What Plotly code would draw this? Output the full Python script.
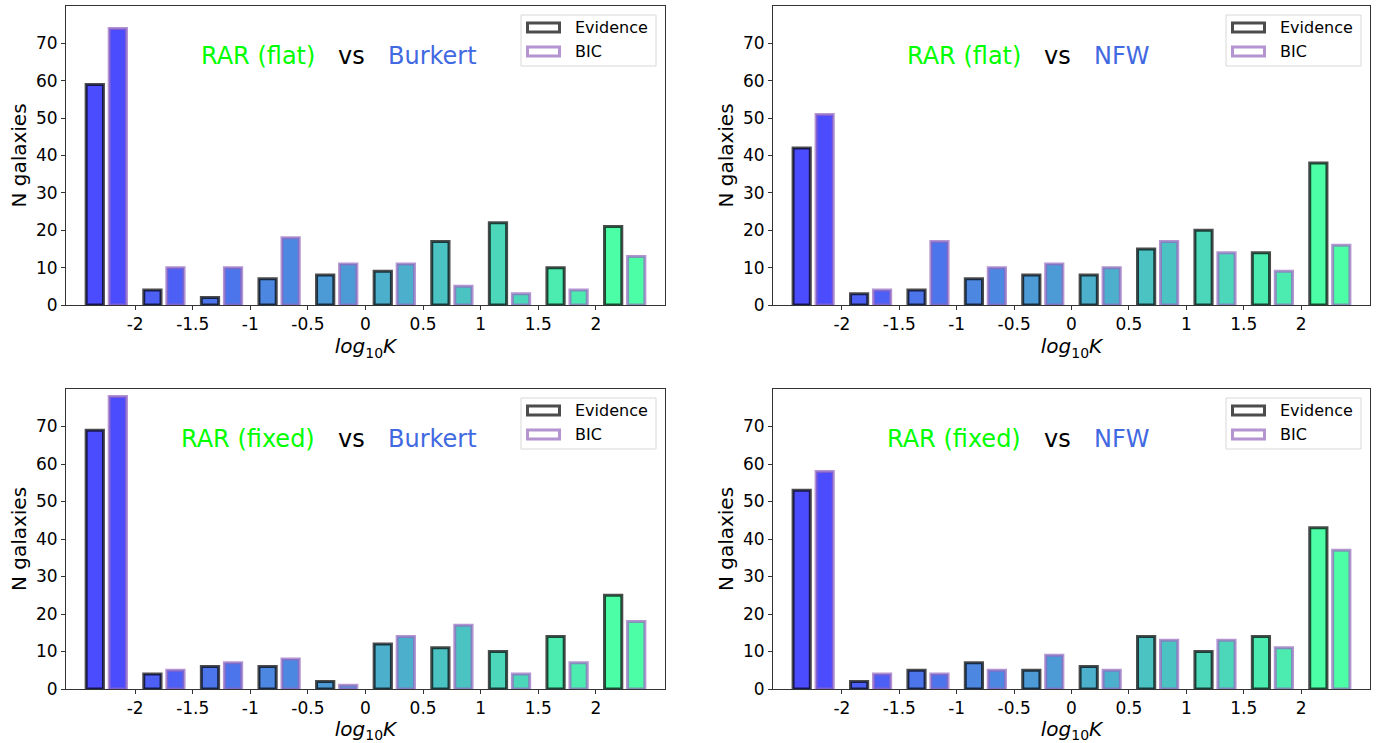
import plotly.graph_objects as go
from plotly.subplots import make_subplots

# ---- data ----
bin_centers = [-2.25, -1.75, -1.25, -0.75, -0.25, 0.25, 0.75, 1.25, 1.75, 2.25]
tick_vals = [-2, -1.5, -1, -0.5, 0, 0.5, 1, 1.5, 2]
tick_text = ["-2", "-1.5", "-1", "-0.5", "0", "0.5", "1", "1.5", "2"]
y_ticks = [0, 10, 20, 30, 40, 50, 60, 70]

flat_burkert_evidence = [59, 4, 2, 7, 8, 9, 17, 22, 10, 21]
flat_burkert_bic = [74, 10, 10, 18, 11, 11, 5, 3, 4, 13]
flat_nfw_evidence = [42, 3, 4, 7, 8, 8, 15, 20, 14, 38]
flat_nfw_bic = [51, 4, 17, 10, 11, 10, 17, 14, 9, 16]
fixed_burkert_evidence = [69, 4, 6, 6, 2, 12, 11, 10, 14, 25]
fixed_burkert_bic = [78, 5, 7, 8, 1, 14, 17, 4, 7, 18]
fixed_nfw_evidence = [53, 2, 5, 7, 5, 6, 14, 10, 14, 43]
fixed_nfw_bic = [58, 4, 4, 5, 9, 5, 13, 13, 11, 37]

panel_rar = ["RAR (flat)", "RAR (flat)", "RAR (fixed)", "RAR (fixed)"]
panel_halo = ["Burkert", "NFW", "Burkert", "NFW"]
panel_evidence = [flat_burkert_evidence, flat_nfw_evidence, fixed_burkert_evidence, fixed_nfw_evidence]
panel_bic = [flat_burkert_bic, flat_nfw_bic, fixed_burkert_bic, fixed_nfw_bic]
legend_names = ["Evidence", "BIC"]

# ---- style ----
ALPHA = 0.7
FONT = "DejaVu Sans"


def winter(t):
    return (0, int(round(255 * t)), int(round(255 * (1 - 0.5 * t))))


n = len(bin_centers)
fill_colors = ["rgba(%d,%d,%d,%.2f)" % (*winter(i / (n - 1)), ALPHA) for i in range(n)]
ev_edge = "rgba(0,0,0,%.2f)" % ALPHA
bic_edge = "rgba(148,103,189,%.2f)" % ALPHA
edges = [ev_edge, bic_edge]

W, H = 1390, 743
# pixel boxes of the four panels (left, right, top, bottom)
boxes = [(66, 665, 6, 305), (773, 1370, 6, 305), (66, 665, 389, 689), (773, 1370, 389, 689)]

fig = make_subplots(rows=2, cols=2)
shapes = []

for k in range(4):
    r, c = k // 2 + 1, k % 2 + 1
    sfx = "" if k == 0 else str(k + 1)
    fig.add_trace(go.Bar(x=bin_centers, y=panel_evidence[k], width=0.15, offset=-0.175,
                         marker=dict(color=fill_colors, line=dict(color=ev_edge, width=3)),
                         name="Evidence", showlegend=False, hoverinfo="x+y"), row=r, col=c)
    fig.add_trace(go.Bar(x=bin_centers, y=panel_bic[k], width=0.15, offset=0.025,
                         marker=dict(color=fill_colors, line=dict(color=bic_edge, width=3)),
                         name="BIC", showlegend=False, hoverinfo="x+y"), row=r, col=c)

    L, R, T, B = boxes[k]
    fig.layout["xaxis" + sfx].update(
        domain=[L / W, R / W], range=[-2.6, 2.6], tickmode="array", tickvals=tick_vals,
        ticktext=tick_text, ticks="outside", ticklen=4, tickcolor="#333", showline=True,
        linecolor="#333", linewidth=1, mirror=True, showgrid=False, zeroline=False,
        automargin=False,
        tickfont=dict(family=FONT, size=17, color="black"),
        title=dict(text="<i>log</i><sub>10</sub><i>K</i>", font=dict(family=FONT, size=20, color="black"),
                   standoff=4))
    fig.layout["yaxis" + sfx].update(
        domain=[1 - B / H, 1 - T / H], range=[0, 80], tickmode="array", tickvals=y_ticks,
        ticks="outside", ticklen=4, tickcolor="#333", showline=True, linecolor="#333",
        linewidth=1, mirror=True, showgrid=False, zeroline=False, automargin=False,
        tickfont=dict(family=FONT, size=17, color="black"),
        title=dict(text="N galaxies", font=dict(family=FONT, size=20, color="black"), standoff=3))

    xr = "x%s domain" % sfx
    yr = "y%s" % sfx
    ydr = "y%s domain" % sfx
    fig.add_annotation(x=0.476, xref=xr, y=66.7, yref=yr, text="vs", showarrow=False,
                       xanchor="center", yanchor="middle", font=dict(family=FONT, size=24, color="black"))
    fig.add_annotation(x=0.476, xref=xr, y=66.7, yref=yr, text=panel_rar[k], showarrow=False,
                       xanchor="right", yanchor="middle", xshift=-34,
                       font=dict(family=FONT, size=24, color="#00ff00"))
    fig.add_annotation(x=0.476, xref=xr, y=66.7, yref=yr, text=panel_halo[k], showarrow=False,
                       xanchor="left", yanchor="middle", xshift=35,
                       font=dict(family=FONT, size=24, color="royalblue"))

    # hand-drawn legend (matplotlib style)
    fx = lambda px: (px - L) / (R - L)
    fy = lambda py: (B - py) / (B - T)
    shapes.append(dict(type="rect", xref=xr, yref=ydr, x0=fx(R - 144), x1=fx(R - 9),
                       y0=fy(T + 9), y1=fy(T + 60), fillcolor="rgba(255,255,255,0.85)",
                       line=dict(color="#d8d8d8", width=1), layer="above"))
    for j, name in enumerate(legend_names):
        cy = T + 21.5 + 24 * j
        shapes.append(dict(type="rect", xref=xr, yref=ydr, x0=fx(R - 137.5), x1=fx(R - 105.5),
                           y0=fy(cy - 4.5), y1=fy(cy + 4.5), fillcolor="white",
                           line=dict(color=edges[j], width=3), layer="above"))
        fig.add_annotation(x=fx(R - 92), xref=xr, y=fy(cy), yref=ydr, text=name, showarrow=False,
                           xanchor="left", yanchor="middle",
                           font=dict(family=FONT, size=16, color="black"))

fig.update_layout(width=W, height=H, margin=dict(l=0, r=0, t=0, b=0), barmode="overlay",
                  plot_bgcolor="white", paper_bgcolor="white", font=dict(family=FONT),
                  shapes=shapes, showlegend=False)

fig.write_html("out.html")
